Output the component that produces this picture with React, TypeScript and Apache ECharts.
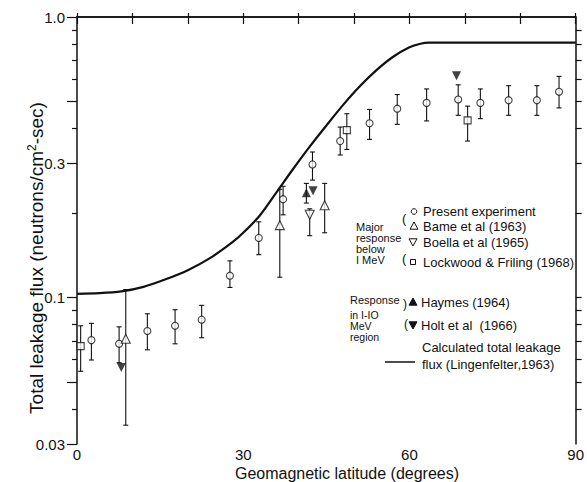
import React, { useEffect, useRef } from "react";
import * as echarts from "echarts";

// ---- Data ----
// Present experiment (circles)
const PRESENT_LAT = [2.6, 7.6, 12.7, 17.7, 22.5, 27.6, 32.8, 37.2, 42.5, 47.5, 52.8, 57.8, 63.1, 68.8, 72.8, 77.9, 83.0, 87.0];
const PRESENT_VAL = [0.0704, 0.0683, 0.0759, 0.0792, 0.0833, 0.1195, 0.163, 0.224, 0.298, 0.361, 0.418, 0.471, 0.494, 0.508, 0.494, 0.505, 0.505, 0.541];
const PRESENT_LOW = [0.0598, 0.0585, 0.065, 0.0683, 0.0718, 0.1085, 0.142, 0.197, 0.262, 0.322, 0.366, 0.414, 0.426, 0.446, 0.434, 0.446, 0.446, 0.474];
const PRESENT_HIGH = [0.0808, 0.0785, 0.0874, 0.0904, 0.0937, 0.135, 0.186, 0.249, 0.33, 0.405, 0.468, 0.529, 0.554, 0.573, 0.554, 0.569, 0.569, 0.614];

// Lockwood & Friling (1968) (squares)
const LOCKWOOD_LAT = [0.66, 48.7, 70.5];
const LOCKWOOD_VAL = [0.067, 0.395, 0.428];
const LOCKWOOD_LOW = [0.0545, 0.337, 0.361];
const LOCKWOOD_HIGH = [0.0792, 0.452, 0.481];

// Bame et al (1963) (open up-triangles)
const BAME_LAT = [8.8, 36.6, 44.7];
const BAME_VAL = [0.0712, 0.181, 0.213];
const BAME_LOW = [0.035, 0.118, 0.17];
const BAME_HIGH = [0.1066, 0.243, 0.255];

// Boella et al (1965) (open down-triangles)
const BOELLA_LAT = [42.0];
const BOELLA_VAL = [0.197];
const BOELLA_LOW = [0.166];
const BOELLA_HIGH = [0.207];

// Haymes (1964) (filled up-triangles)
const HAYMES_LAT = [41.4];
const HAYMES_VAL = [0.236];
const HAYMES_LOW = [0.217];
const HAYMES_HIGH = [0.255];

// Holt et al (1966) (filled down-triangles)
const HOLT_LAT = [8.0, 42.6, 68.5];
const HOLT_VAL = [0.0562, 0.24, 0.617];

// Calculated total leakage flux (Lingenfelter, 1963)
const CALC_LAT = [0, 4, 8, 12, 16, 20, 24, 28, 30, 33, 36, 39, 42, 45, 48, 51, 54, 57, 60, 62, 63.5, 65, 70, 80, 90];
const CALC_VAL = [0.103, 0.1035, 0.105, 0.109, 0.116, 0.125, 0.138, 0.157, 0.17, 0.196, 0.237, 0.287, 0.345, 0.41, 0.485, 0.565, 0.645, 0.72, 0.78, 0.803, 0.81, 0.81, 0.81, 0.81, 0.81];

// Axis ticks
const X_TICK_LABELS = [0, 30, 60, 90];
const Y_LABEL_VALUES = [0.03, 0.1, 0.3, 1.0];
const Y_LABEL_TEXTS = ["0.03", "0.1", "0.3", "1.0"];
const Y_MAJOR_TICKS = [0.03, 0.05, 0.1, 0.3, 0.5, 1.0];
const Y_MINOR_TICKS = [0.04, 0.06, 0.07, 0.08, 0.09, 0.2, 0.4, 0.6, 0.7, 0.8, 0.9];
const Y_RIGHT_TICKS = [0.04, 0.05, 0.06, 0.07, 0.08, 0.09, 0.1, 0.2, 0.3, 0.4, 0.5, 0.6, 0.7, 0.8, 0.9];

const Y_MIN = 0.03;
const Y_MAX = 1.0;

const FONT = "Liberation Sans";
const INK = "#111";

const lg = (v: number) => Math.log10(v);

function pts(lat: number[], val: number[]) {
  return lat.map((x, i) => [x, lg(val[i])]);
}
function bars(lat: number[], lo: number[], hi: number[]) {
  return lat.map((x, i) => [x, lg(lo[i]), lg(hi[i])]);
}

export default function App() {
  const ref = useRef<HTMLDivElement>(null);

  useEffect(() => {
    if (!ref.current) return;
    const chart = echarts.init(ref.current, undefined, { renderer: "svg" });

    const axisLine = { show: true, lineStyle: { color: INK, width: 1.5 } };
    const tickStyle = { color: INK, width: 1.2 };

    const errData = [
      ...bars(PRESENT_LAT, PRESENT_LOW, PRESENT_HIGH),
      ...bars(LOCKWOOD_LAT, LOCKWOOD_LOW, LOCKWOOD_HIGH),
      ...bars(BAME_LAT, BAME_LOW, BAME_HIGH),
      ...bars(BOELLA_LAT, BOELLA_LOW, BOELLA_HIGH),
      ...bars(HAYMES_LAT, HAYMES_LOW, HAYMES_HIGH),
    ];

    const txt = (text: string, x: number, y: number, size = 13, extra: any = {}) => ({
      type: "text",
      x,
      y,
      silent: true,
      style: {
        text,
        fill: INK,
        font: `${size}px "${FONT}"`,
        verticalAlign: "middle",
        align: "left",
        ...extra,
      },
    });

    const tri = (cx: number, cy: number, s: number, up: boolean, filled: boolean) => ({
      type: "polygon",
      silent: true,
      shape: {
        points: up
          ? [[cx, cy - s], [cx - s, cy + s * 0.8], [cx + s, cy + s * 0.8]]
          : [[cx, cy + s], [cx - s, cy - s * 0.8], [cx + s, cy - s * 0.8]],
      },
      style: { fill: filled ? INK : "#fff", stroke: INK, lineWidth: 1 },
    });

    const option: any = {
      animation: false,
      backgroundColor: "#fff",
      grid: { left: 77, right: 9, top: 17, bottom: 38, containLabel: false },
      xAxis: [
        {
          type: "value",
          min: 0,
          max: 90,
          interval: 10,
          position: "bottom",
          axisLine,
          axisTick: { show: true, inside: true, length: 4, lineStyle: tickStyle },
          axisLabel: {
            customValues: X_TICK_LABELS,
            formatter: (v: number) => String(Math.round(v)),
            fontSize: 15,
            fontFamily: FONT,
            color: INK,
            margin: 3,
          },
          splitLine: { show: false },
        },
        {
          type: "value",
          min: 0,
          max: 90,
          interval: 10,
          position: "top",
          axisLine,
          axisTick: { show: true, inside: true, length: 7, lineStyle: tickStyle },
          axisLabel: { show: false },
          splitLine: { show: false },
        },
      ],
      yAxis: [
        {
          type: "value",
          min: lg(Y_MIN),
          max: lg(Y_MAX),
          position: "left",
          axisLine,
          axisTick: { show: true, inside: false, length: 10, customValues: Y_MAJOR_TICKS.map(lg), lineStyle: tickStyle },
          axisLabel: {
            customValues: Y_LABEL_VALUES.map(lg),
            formatter: (v: number) => {
              const val = Math.pow(10, v);
              let best = 0;
              Y_LABEL_VALUES.forEach((t, i) => {
                if (Math.abs(t - val) < Math.abs(Y_LABEL_VALUES[best] - val)) best = i;
              });
              return Y_LABEL_TEXTS[best];
            },
            fontSize: 15,
            fontFamily: FONT,
            color: INK,
            margin: 12,
          },
          splitLine: { show: false },
        },
        {
          type: "value",
          min: lg(Y_MIN),
          max: lg(Y_MAX),
          position: "left",
          axisLine: { show: false },
          axisTick: { show: true, inside: false, length: 5, customValues: Y_MINOR_TICKS.map(lg), lineStyle: tickStyle },
          axisLabel: { show: false },
          splitLine: { show: false },
        },
        {
          type: "value",
          min: lg(Y_MIN),
          max: lg(Y_MAX),
          position: "right",
          axisLine,
          axisTick: { show: true, inside: false, length: 6, customValues: Y_RIGHT_TICKS.map(lg), lineStyle: tickStyle },
          axisLabel: { show: false },
          splitLine: { show: false },
        },
      ],
      series: [
        {
          name: "Calculated total leakage flux (Lingenfelter, 1963)",
          type: "line",
          data: pts(CALC_LAT, CALC_VAL),
          smooth: 0.3,
          showSymbol: false,
          symbol: "none",
          lineStyle: { color: INK, width: 2.2 },
          z: 2,
        },
        {
          name: "error bars",
          type: "custom",
          data: errData,
          encode: { x: 0, y: [1, 2] },
          z: 3,
          renderItem: (_params: any, api: any) => {
            const x = api.value(0);
            const p1 = api.coord([x, api.value(1)]);
            const p2 = api.coord([x, api.value(2)]);
            const w = 2.5;
            const st = { stroke: INK, lineWidth: 1.1 };
            return {
              type: "group",
              children: [
                { type: "line", shape: { x1: p1[0], y1: p1[1], x2: p2[0], y2: p2[1] }, style: st },
                { type: "line", shape: { x1: p1[0] - w, y1: p1[1], x2: p1[0] + w, y2: p1[1] }, style: st },
                { type: "line", shape: { x1: p2[0] - w, y1: p2[1], x2: p2[0] + w, y2: p2[1] }, style: st },
              ],
            };
          },
        },
        {
          name: "Present experiment",
          type: "scatter",
          data: pts(PRESENT_LAT, PRESENT_VAL),
          symbol: "circle",
          symbolSize: 7,
          itemStyle: { color: "#fff", borderColor: INK, borderWidth: 1.1 },
          z: 5,
        },
        {
          name: "Lockwood & Friling (1968)",
          type: "scatter",
          data: pts(LOCKWOOD_LAT, LOCKWOOD_VAL),
          symbol: "rect",
          symbolSize: 7,
          itemStyle: { color: "#fff", borderColor: INK, borderWidth: 1.1 },
          z: 5,
        },
        {
          name: "Bame et al (1963)",
          type: "scatter",
          data: pts(BAME_LAT, BAME_VAL),
          symbol: "triangle",
          symbolSize: 9,
          itemStyle: { color: "#fff", borderColor: INK, borderWidth: 1.1 },
          z: 5,
        },
        {
          name: "Boella et al (1965)",
          type: "scatter",
          data: pts(BOELLA_LAT, BOELLA_VAL),
          symbol: "triangle",
          symbolRotate: 180,
          symbolSize: 9,
          itemStyle: { color: "#fff", borderColor: INK, borderWidth: 1.1 },
          z: 5,
        },
        {
          name: "Haymes (1964)",
          type: "scatter",
          data: pts(HAYMES_LAT, HAYMES_VAL),
          symbol: "triangle",
          symbolSize: 9,
          itemStyle: { color: INK },
          z: 5,
        },
        {
          name: "Holt et al (1966)",
          type: "scatter",
          data: pts(HOLT_LAT, HOLT_VAL),
          symbol: "triangle",
          symbolRotate: 180,
          symbolSize: 9,
          itemStyle: { color: INK },
          z: 5,
        },
      ],
      graphic: [
        // axis titles
        {
          type: "text",
          x: 36,
          y: 258,
          rotation: Math.PI / 2,
          silent: true,
          style: {
            text: "Total leakage flux (neutrons/cm{sup|2}-sec)",
            fill: INK,
            font: `19px "${FONT}"`,
            align: "center",
            verticalAlign: "middle",
            rich: { sup: { fontSize: 12, fontFamily: FONT, fill: INK, verticalAlign: "top", padding: [0, 0, 8, 0] } },
          },
        },
        txt("Geomagnetic latitude (degrees)", 347, 473, 16, { align: "center" }),
        // legend, first group
        txt("Major\nresponse\nbelow\nI MeV", 356, 243, 11, { lineHeight: 11 }),
        txt("(", 402, 218, 13),
        txt("(", 402, 258, 13),
        { type: "circle", silent: true, shape: { cx: 414, cy: 211.5, r: 2.8 }, style: { fill: "#fff", stroke: INK, lineWidth: 1 } },
        tri(414, 226, 4, true, false),
        tri(413, 242, 4, false, false),
        { type: "rect", silent: true, shape: { x: 410.5, y: 259.5, width: 5, height: 5 }, style: { fill: "#fff", stroke: INK, lineWidth: 1 } },
        txt("Present experiment", 423, 211.5, 13),
        txt("Bame et al (1963)", 423, 226.5, 13),
        txt("Boella et al (1965)", 423, 242, 13),
        txt("Lockwood & Friling (1968)", 423, 262, 13),
        // legend, second group
        txt("Response", 350, 300, 11),
        txt("in I-IO\nMeV\nregion", 350, 326, 10.5, { lineHeight: 11 }),
        txt(")", 403, 304, 12),
        txt("(", 404, 324, 12),
        tri(413, 302, 4, true, true),
        tri(413, 325, 4, false, true),
        txt("Haymes (1964)", 421, 302, 13),
        txt("Holt et al  (1966)", 421, 325, 13),
        { type: "line", silent: true, shape: { x1: 385, y1: 362, x2: 415, y2: 362 }, style: { stroke: INK, lineWidth: 1.5 } },
        txt("Calculated total leakage\nflux (Lingenfelter,1963)", 422, 356, 13, { lineHeight: 17 }),
      ],
    };

    chart.setOption(option);
    return () => chart.dispose();
  }, []);

  return <div ref={ref} style={{ width: 587, height: 482, position: "absolute", left: 0, top: 0, background: "#fff" }} />;
}
